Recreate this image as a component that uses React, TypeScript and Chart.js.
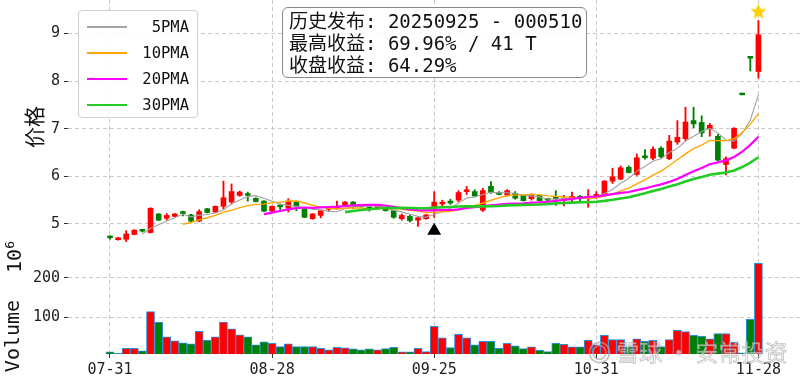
import React, { useEffect, useRef } from 'react';
import { Chart, registerables } from 'chart.js';

Chart.register(...registerables);

// ---------------- data ----------------
const dates = [
  '07-31', '08-01', '08-04', '08-05', '08-06', '08-07', '08-08', '08-11', '08-12', '08-13',
  '08-14', '08-15', '08-18', '08-19', '08-20', '08-21', '08-22', '08-25', '08-26', '08-27',
  '08-28', '08-29', '09-01', '09-02', '09-03', '09-04', '09-05', '09-08', '09-09', '09-10',
  '09-11', '09-12', '09-15', '09-16', '09-17', '09-18', '09-19', '09-22', '09-23', '09-24',
  '09-25', '09-26', '09-29', '09-30', '10-09', '10-10', '10-13', '10-14', '10-15', '10-16',
  '10-17', '10-20', '10-21', '10-22', '10-23', '10-24', '10-27', '10-28', '10-29', '10-30',
  '10-31', '11-03', '11-04', '11-05', '11-06', '11-07', '11-10', '11-11', '11-12', '11-13',
  '11-14', '11-17', '11-18', '11-19', '11-20', '11-21', '11-24', '11-25', '11-26', '11-27',
  '11-28',
];

const opens = [
  4.73, 4.67, 4.68, 4.78, 4.86, 4.82, 5.21, 5.12, 5.16, 5.23,
  5.19, 5.06, 5.32, 5.25, 5.37, 5.46, 5.60, 5.63, 5.54, 5.48,
  5.27, 5.37, 5.33, 5.46, 5.32, 5.11, 5.18, 5.31, 5.32, 5.39,
  5.46, 5.39, 5.35, 5.33, 5.34, 5.28, 5.11, 5.16, 5.08, 5.11,
  5.35, 5.42, 5.48, 5.50, 5.68, 5.68, 5.29, 5.79, 5.66, 5.61,
  5.64, 5.60, 5.53, 5.60, 5.52, 5.54, 5.49, 5.54, 5.58, 5.53,
  5.56, 5.61, 5.90, 5.94, 6.19, 6.04, 6.43, 6.38, 6.59, 6.37,
  6.72, 6.79, 7.17, 7.13, 7.00, 6.84, 6.25, 6.59, 7.71, 8.48,
  8.20,
];
const highs = [
  4.75, 4.72, 4.86, 4.88, 4.88, 5.34, 5.22, 5.22, 5.22, 5.27,
  5.20, 5.30, 5.33, 5.38, 5.90, 5.84, 5.69, 5.67, 5.55, 5.49,
  5.38, 5.42, 5.53, 5.47, 5.33, 5.22, 5.29, 5.35, 5.48, 5.47,
  5.47, 5.40, 5.36, 5.36, 5.35, 5.29, 5.21, 5.19, 5.14, 5.20,
  5.68, 5.50, 5.52, 5.70, 5.79, 5.72, 5.75, 5.89, 5.68, 5.72,
  5.68, 5.61, 5.63, 5.61, 5.54, 5.70, 5.60, 5.67, 5.60, 5.72,
  5.68, 5.91, 6.17, 6.22, 6.22, 6.47, 6.56, 6.62, 6.62, 6.86,
  7.17, 7.45, 7.45, 7.27, 7.11, 6.88, 6.41, 7.02, 7.71, 8.48,
  9.27,
];
const lows = [
  4.68, 4.66, 4.63, 4.77, 4.83, 4.81, 5.07, 5.08, 5.15, 5.17,
  5.05, 5.05, 5.23, 5.24, 5.32, 5.42, 5.58, 5.48, 5.46, 5.26,
  5.26, 5.30, 5.25, 5.28, 5.13, 5.10, 5.13, 5.28, 5.31, 5.38,
  5.32, 5.35, 5.27, 5.32, 5.27, 5.12, 5.08, 5.04, 4.95, 5.10,
  5.14, 5.36, 5.41, 5.46, 5.62, 5.57, 5.26, 5.64, 5.61, 5.58,
  5.52, 5.48, 5.50, 5.48, 5.48, 5.39, 5.38, 5.46, 5.46, 5.35,
  5.55, 5.60, 5.85, 5.93, 6.07, 6.02, 6.36, 6.35, 6.38, 6.35,
  6.67, 6.75, 7.02, 6.83, 6.84, 6.33, 6.03, 6.58, 7.71, 8.21,
  8.06,
];
const closes = [
  4.71, 4.71, 4.79, 4.87, 4.85, 5.33, 5.08, 5.18, 5.21, 5.22,
  5.06, 5.26, 5.24, 5.37, 5.55, 5.68, 5.67, 5.60, 5.47, 5.27,
  5.37, 5.36, 5.48, 5.37, 5.14, 5.21, 5.28, 5.32, 5.33, 5.46,
  5.40, 5.36, 5.32, 5.35, 5.28, 5.14, 5.18, 5.07, 5.13, 5.19,
  5.46, 5.44, 5.44, 5.66, 5.71, 5.59, 5.70, 5.66, 5.62, 5.70,
  5.54, 5.49, 5.60, 5.49, 5.50, 5.53, 5.54, 5.58, 5.53, 5.58,
  5.62, 5.90, 5.99, 6.18, 6.08, 6.39, 6.39, 6.57, 6.41, 6.74,
  6.82, 7.14, 7.10, 6.91, 7.07, 6.34, 6.37, 7.01, 7.71, 8.48,
  8.97,
];
// volume, in units of 10^6
const volumes = [
  12.6, 9.2, 21.8, 21.8, 15.1, 114.3, 87.4, 50.4, 40.3, 35.3,
  32.8, 64.7, 42.0, 50.4, 88.2, 70.6, 55.5, 50.4, 30.3, 37.8,
  34.5, 26.1, 32.8, 26.1, 26.1, 26.1, 21.8, 17.6, 24.4, 22.7,
  20.2, 17.6, 20.2, 17.6, 21.0, 24.4, 12.6, 12.6, 21.8, 13.4,
  77.3, 47.9, 23.5, 57.1, 47.9, 30.3, 39.5, 39.5, 21.8, 34.5,
  27.7, 21.0, 25.2, 16.8, 13.4, 34.5, 31.9, 25.2, 25.2, 42.0,
  30.3, 54.6, 43.7, 43.7, 26.1, 45.4, 39.5, 42.0, 26.1, 43.7,
  67.2, 63.9, 54.6, 52.1, 45.4, 58.8, 58.8, 37.0, 10.0, 95.0,
  236.0,
];

const maPeriods = [5, 10, 20, 30];
const maLabels = ['5PMA', '10PMA', '20PMA', '30PMA'];
const maColors = ['#a3a3a3', '#ffa500', '#ff00ff', '#22cc22'];
const maWidths = [1.1, 1.4, 2.2, 2.6];

const xTickIndexes = [0, 20, 40, 60, 80];
const priceTicks = [5, 6, 7, 8, 9];
const volumeTicks = [100, 200];

const releaseIndex = [40];
const releaseMarker = [4.86];
const peakIndex = [80];
const peakMarker = [9.46];

const infoLines = ['历史发布: 20250925 - 000510', '最高收益: 69.96% / 41 T', '收盘收益: 64.29%'];

// ---------------- styling ----------------
const UP = '#ff0000';
const DOWN = '#008000';
const GRID = '#c4c4c4';
const MONO = '"DejaVu Sans Mono", "Noto Sans CJK SC", monospace';
const X_MIN = -5.18;
const X_MAX = 85.13;

function sma(vals: number[], n: number) {
  const out: { x: number; y: number }[] = [];
  for (let i = n - 1; i < vals.length; i++) {
    let s = 0;
    for (let j = i - n + 1; j <= i; j++) s += vals[j];
    out.push({ x: i, y: s / n });
  }
  return out;
}

function makeStar() {
  const c = document.createElement('canvas');
  c.width = 18;
  c.height = 18;
  const g = c.getContext('2d')!;
  g.fillStyle = '#ffd000';
  g.beginPath();
  for (let k = 0; k < 10; k++) {
    const r = k % 2 === 0 ? 8.5 : 3.6;
    const a = -Math.PI / 2 + (k * Math.PI) / 5;
    const px = 9 + r * Math.cos(a);
    const py = 9.5 + r * Math.sin(a);
    if (k === 0) g.moveTo(px, py);
    else g.lineTo(px, py);
  }
  g.closePath();
  g.fill();
  return c;
}

const noPad = (s: any) => {
  s.paddingTop = 0;
  s.paddingBottom = 0;
  s.paddingLeft = 0;
  s.paddingRight = 0;
};

export default function App() {
  const ref = useRef<HTMLCanvasElement>(null);

  useEffect(() => {
    const colors = closes.map((c, i) => (c > opens[i] ? UP : DOWN));
    const tickFont = { family: MONO, size: 15 };

    const gridBase = {
      color: GRID,
      lineWidth: 0.9,
      offset: false,
      tickLength: 4,
      tickColor: '#333',
      tickBorderDash: [] as number[],
      tickWidth: 1,
    };

    const chart = new Chart(ref.current!, {
      type: 'bar',
      data: {
        datasets: [
          {
            type: 'bar',
            yAxisID: 'y',
            data: dates.map((_, i) => ({ x: i, y: [lows[i], highs[i]] })) as any,
            backgroundColor: colors,
            barThickness: 1.2,
            grouped: false,
            order: 5,
          } as any,
          {
            type: 'bar',
            yAxisID: 'y',
            data: dates.map((_, i) => ({
              x: i,
              y: [Math.min(opens[i], closes[i]), Math.max(opens[i], closes[i])],
            })) as any,
            backgroundColor: colors,
            barThickness: 5,
            minBarLength: 1.8,
            grouped: false,
            order: 4,
          } as any,
          ...maPeriods.map((p, k) => ({
            type: 'line',
            yAxisID: 'y',
            data: sma(closes, p),
            borderColor: maColors[k],
            borderWidth: maWidths[k],
            pointRadius: 0,
            tension: 0,
            fill: false,
            order: 3 - k * 0.1,
          })),
          {
            type: 'scatter',
            yAxisID: 'y',
            data: releaseIndex.map((x, i) => ({ x, y: releaseMarker[i] })),
            pointStyle: 'triangle',
            pointRadius: 8,
            pointBorderWidth: 0,
            backgroundColor: '#000',
            borderColor: '#000',
            clip: false,
            order: 0,
          },
          {
            type: 'scatter',
            yAxisID: 'y',
            data: peakIndex.map((x, i) => ({ x, y: peakMarker[i] })),
            pointStyle: makeStar(),
            pointRadius: 9,
            clip: false,
            order: 0,
          },
          {
            type: 'bar',
            yAxisID: 'yv',
            data: volumes.map((v, i) => ({ x: i, y: v })) as any,
            backgroundColor: colors,
            borderColor: '#2a8fe0',
            borderWidth: 1,
            borderSkipped: 'bottom',
            barThickness: 8.1,
            grouped: false,
            order: 6,
          },
        ] as any,
      },
      options: {
        animation: false,
        responsive: false,
        maintainAspectRatio: false,
        devicePixelRatio: 1,
        layout: { padding: 0, autoPadding: false },
        events: [],
        plugins: { legend: { display: false }, tooltip: { enabled: false } },
        scales: {
          x: {
            type: 'linear',
            min: X_MIN,
            max: X_MAX,
            offset: false,
            afterBuildTicks: (s: any) => {
              s.ticks = xTickIndexes.map((v) => ({ value: v }));
            },
            afterFit: (s: any) => {
              s.height = 26;
              noPad(s);
            },
            ticks: {
              font: tickFont,
              color: '#222',
              padding: 3,
              maxRotation: 0,
              autoSkip: false,
              callback: (v: any) => dates[Math.round(v)] ?? '',
            },
            grid: { ...gridBase },
            border: { display: false, dash: [4, 3] },
          },
          yv: {
            type: 'linear',
            position: 'left',
            stack: 'panels',
            stackWeight: 100,
            min: 7.3,
            max: 259.8,
            afterBuildTicks: (s: any) => {
              s.ticks = volumeTicks.map((v) => ({ value: v }));
            },
            afterFit: (s: any) => {
              s.width = 68;
              noPad(s);
            },
            ticks: { font: tickFont, color: '#222', padding: 4 },
            grid: { ...gridBase },
            border: { display: false, dash: [4, 3] },
          },
          y: {
            type: 'linear',
            position: 'left',
            stack: 'panels',
            stackWeight: 254,
            min: 4.37,
            max: 9.7,
            afterBuildTicks: (s: any) => {
              s.ticks = priceTicks.map((v) => ({ value: v }));
            },
            afterFit: (s: any) => {
              s.width = 68;
              noPad(s);
            },
            ticks: { font: tickFont, color: '#222', padding: 4 },
            grid: { ...gridBase },
            border: { display: false, dash: [4, 3] },
          },
        },
      } as any,
    });

    return () => {
      chart.destroy();
    };
  }, []);

  const abs = (o: React.CSSProperties): React.CSSProperties => ({ position: 'absolute', ...o });

  return (
    <div
      style={{
        position: 'fixed',
        left: 0,
        top: 0,
        width: 800,
        height: 380,
        background: '#fff',
        overflow: 'hidden',
        fontFamily: MONO,
      }}
    >
      <canvas ref={ref} width={800} height={380} style={abs({ left: 0, top: 0, width: 800, height: 380 })} />

      {/* y-axis titles */}
      <div
        style={abs({
          left: 33,
          top: 127,
          transform: 'translate(-50%, -50%) rotate(-90deg)',
          fontFamily: '"Noto Sans CJK SC", sans-serif',
          fontSize: 21,
          color: '#111',
          whiteSpace: 'nowrap',
        })}
      >
        价格
      </div>
      <div
        style={abs({
          left: 12,
          top: 336,
          transform: 'translate(-50%, -50%) rotate(-90deg)',
          fontSize: 20,
          color: '#111',
          whiteSpace: 'nowrap',
        })}
      >
        Volume
      </div>
      <div
        style={abs({
          left: 14,
          top: 257,
          transform: 'translate(-50%, -50%) rotate(-90deg)',
          fontSize: 20,
          color: '#111',
          whiteSpace: 'nowrap',
        })}
      >
        10<sup style={{ fontSize: 13 }}>6</sup>
      </div>

      {/* legend */}
      <div
        style={abs({
          left: 78,
          top: 10,
          width: 120,
          height: 108,
          boxSizing: 'border-box',
          border: '1px solid #d0d0d0',
          borderRadius: 4,
          background: 'rgba(255,255,255,0.85)',
        })}
      >
        {maLabels.map((lab, k) => (
          <div key={lab} style={abs({ left: 0, top: 16 + k * 26 - 10, width: 120, height: 20 })}>
            <div
              style={abs({
                left: 8,
                top: 10 - maWidths[k] / 2,
                width: 40,
                height: maWidths[k],
                background: maColors[k],
              })}
            />
            <div
              style={abs({
                right: 10,
                top: 0,
                lineHeight: '20px',
                fontSize: 15.5,
                color: '#111',
                whiteSpace: 'nowrap',
              })}
            >
              {lab}
            </div>
          </div>
        ))}
      </div>

      {/* info box */}
      <div
        style={abs({
          left: 282,
          top: 7,
          width: 305,
          height: 71,
          boxSizing: 'border-box',
          border: '1.3px solid #8a8a8a',
          borderRadius: 6,
          background: 'rgba(255,255,255,0.85)',
        })}
      >
        {infoLines.map((t, k) => (
          <div
            key={k}
            style={abs({
              left: 6,
              top: 2 + k * 22,
              lineHeight: '22px',
              fontSize: 19,
              color: '#111',
              whiteSpace: 'nowrap',
            })}
          >
            {t}
          </div>
        ))}
      </div>

      {/* watermark */}
      <div
        style={abs({
          left: 588,
          top: 334,
          fontFamily: '"Noto Sans CJK SC", sans-serif',
          fontSize: 23,
          color: 'rgba(255,255,255,0.55)',
          WebkitTextStroke: '0.8px rgba(140,140,140,0.55)',
          whiteSpace: 'nowrap',
        } as any)}
      >
        ◎ 雪球 · 安常投资
      </div>
    </div>
  );
}
